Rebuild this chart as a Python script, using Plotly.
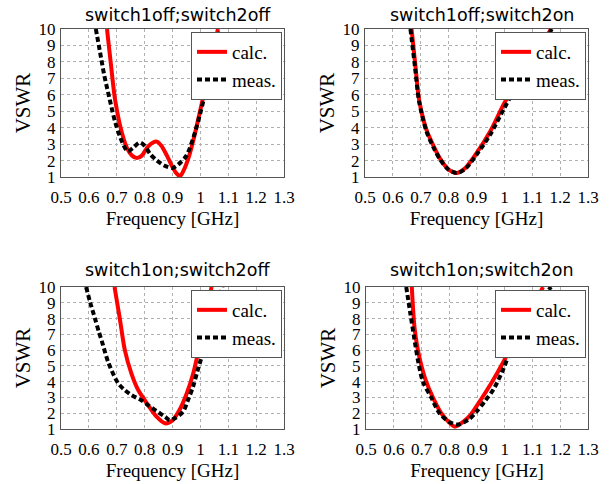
import plotly.graph_objects as go

titles = ["switch1off;switch2off", "switch1off;switch2on", "switch1on;switch2off", "switch1on;switch2on"]

# panel 1: switch1off;switch2off
p1_calc_f = [0.665, 0.68, 0.694, 0.72, 0.74, 0.755, 0.772, 0.79, 0.81, 0.83, 0.844, 0.86, 0.88, 0.90, 0.915, 0.927, 0.94, 0.96, 0.98, 1.0, 1.02, 1.04, 1.063]
p1_calc_v = [10.0, 7.7, 5.7, 3.6, 2.65, 2.3, 2.15, 2.3, 2.8, 3.1, 3.15, 2.9, 2.3, 1.6, 1.2, 1.05, 1.4, 2.3, 3.6, 5.1, 6.6, 8.2, 10.0]
p1_meas_f = [0.625, 0.64, 0.655, 0.675, 0.695, 0.72, 0.74, 0.76, 0.783, 0.80, 0.82, 0.844, 0.87, 0.90, 0.92, 0.95, 0.975, 1.0, 1.02, 1.04, 1.06, 1.077]
p1_meas_v = [10.0, 8.6, 7.2, 5.7, 4.3, 3.1, 2.55, 2.8, 3.1, 2.9, 2.4, 2.0, 1.7, 1.55, 1.75, 2.3, 3.4, 4.9, 6.3, 7.8, 9.3, 10.0]

# panel 2: switch1off;switch2on
p2_calc_f = [0.667, 0.68, 0.694, 0.72, 0.747, 0.77, 0.80, 0.83, 0.86, 0.90, 0.95, 1.0, 1.05, 1.10, 1.14, 1.167]
p2_calc_v = [10.0, 7.9, 5.7, 3.9, 2.85, 2.1, 1.45, 1.25, 1.55, 2.45, 3.8, 5.5, 6.9, 8.2, 9.2, 10.0]
p2_meas_f = [0.663, 0.68, 0.694, 0.72, 0.747, 0.77, 0.80, 0.83, 0.86, 0.90, 0.95, 1.0, 1.05, 1.10, 1.14, 1.17]
p2_meas_v = [10.0, 7.6, 5.6, 3.8, 2.75, 2.05, 1.45, 1.25, 1.5, 2.35, 3.6, 5.2, 6.7, 8.0, 9.1, 10.0]

# panel 3: switch1on;switch2off
p3_calc_f = [0.692, 0.711, 0.729, 0.753, 0.777, 0.813, 0.843, 0.873, 0.90, 0.925, 0.95, 0.974, 0.99, 1.01, 1.025, 1.04]
p3_calc_v = [10.0, 8.0, 6.0, 4.5, 3.47, 2.5, 1.78, 1.36, 1.55, 2.2, 3.2, 4.5, 5.7, 7.3, 8.6, 10.0]
p3_meas_f = [0.59, 0.605, 0.622, 0.635, 0.646, 0.67, 0.705, 0.73, 0.753, 0.79, 0.813, 0.85, 0.873, 0.89, 0.91, 0.938, 0.955, 0.974, 0.99, 1.01, 1.03, 1.05, 1.08]
p3_meas_v = [10.0, 9.0, 8.0, 7.2, 6.6, 5.2, 3.9, 3.45, 3.15, 2.8, 2.5, 2.05, 1.78, 1.57, 1.7, 2.1, 2.8, 3.7, 4.7, 5.9, 7.2, 8.5, 10.0]

# panel 4: switch1on;switch2on
p4_calc_f = [0.665, 0.675, 0.687, 0.70, 0.717, 0.741, 0.771, 0.795, 0.82, 0.85, 0.877, 0.91, 0.948, 0.995, 1.04, 1.09, 1.138]
p4_calc_v = [10.0, 7.4, 6.0, 5.0, 4.0, 3.0, 2.0, 1.5, 1.15, 1.45, 1.9, 2.75, 3.8, 5.25, 6.8, 8.4, 10.0]
p4_meas_f = [0.645, 0.66, 0.679, 0.69, 0.705, 0.735, 0.765, 0.80, 0.83, 0.87, 0.898, 0.93, 0.959, 0.99, 1.02, 1.07, 1.12, 1.167]
p4_meas_v = [10.0, 8.3, 6.2, 5.1, 4.0, 3.0, 2.0, 1.45, 1.28, 1.6, 2.1, 2.8, 3.5, 4.6, 5.9, 7.6, 9.0, 10.0]

x_ticks = [0.5, 0.6, 0.7, 0.8, 0.9, 1.0, 1.1, 1.2, 1.3]
x_tick_labels = ["0.5", "0.6", "0.7", "0.8", "0.9", "1", "1.1", "1.2", "1.3"]
y_ticks = [1, 2, 3, 4, 5, 6, 7, 8, 9, 10]
series_names = ["calc.", "meas."]

panels = [
    (p1_calc_f, p1_calc_v, p1_meas_f, p1_meas_v),
    (p2_calc_f, p2_calc_v, p2_meas_f, p2_meas_v),
    (p3_calc_f, p3_calc_v, p3_meas_f, p3_meas_v),
    (p4_calc_f, p4_calc_v, p4_meas_f, p4_meas_v),
]

W, H = 609, 484
# pixel boxes (left, right, top, bottom)
boxes = [(61, 284, 29, 177), (365, 588, 29, 177), (61, 284, 287, 429), (366, 588, 287, 429)]
title_y = [15, 15, 270, 270]


def px(x):
    return x / W


def py(y):
    return 1 - y / H


SERIF = "Liberation Serif"
fig = go.Figure()
layout = dict(
    width=W, height=H, margin=dict(l=0, r=0, t=0, b=0, autoexpand=False),
    paper_bgcolor="white", plot_bgcolor="white", showlegend=True,
    font=dict(family=SERIF, color="black"),
)
annotations = []
for i, (cf, cv, mf, mv) in enumerate(panels):
    n = "" if i == 0 else str(i + 1)
    xa, ya = "x" + n, "y" + n
    lg = "legend" + n
    fig.add_trace(go.Scatter(x=cf, y=cv, mode="lines", name=series_names[0], xaxis=xa, yaxis=ya, legend=lg,
                             line=dict(color="#ff0000", width=4, shape="spline", smoothing=0.8)))
    fig.add_trace(go.Scatter(x=mf, y=mv, mode="lines", name=series_names[1], xaxis=xa, yaxis=ya, legend=lg,
                             line=dict(color="black", width=4, dash="5px,3px", shape="spline", smoothing=0.8)))
    l, r, t, b = boxes[i]
    axcommon = dict(showline=True, linecolor="#555555", linewidth=1, mirror=True, ticks="", automargin=False,
                    showgrid=True, gridcolor="#b0b0b0", griddash="dot", gridwidth=1, zeroline=False,
                    tickfont=dict(family=SERIF, size=17, color="black"))
    layout["xaxis" + n] = dict(axcommon, domain=[px(l), px(r)], range=[0.5, 1.3], anchor=ya,
                               tickvals=x_ticks, ticktext=x_tick_labels, ticklen=0, tickangle=0,
                               ticklabelstandoff=5,
                               title=dict(text="Frequency [GHz]", font=dict(family=SERIF, size=19), standoff=5))
    layout["yaxis" + n] = dict(axcommon, domain=[py(b), py(t)], range=[1, 10], anchor=xa,
                               tickvals=y_ticks, ticklen=0, ticklabelstandoff=1,
                               title=dict(text="VSWR", font=dict(family=SERIF, size=21), standoff=2))
    layout[lg] = dict(x=px(r - 2), y=py(t + 3), xanchor="right", yanchor="top",
                      bgcolor="white", bordercolor="#555555", borderwidth=1,
                      font=dict(family=SERIF, size=19, color="black"), tracegroupgap=0)
    annotations.append(dict(text=titles[i], x=px((l + r) / 2 + 5), y=py(title_y[i]), xref="paper", yref="paper",
                            xanchor="center", yanchor="middle", showarrow=False,
                            font=dict(family="DejaVu Sans", size=17.5, color="black")))
layout["annotations"] = annotations
fig.update_layout(**layout)
fig.write_html("out.html", config={"displayModeBar": False},
               post_script="document.body.style.margin='0';")
